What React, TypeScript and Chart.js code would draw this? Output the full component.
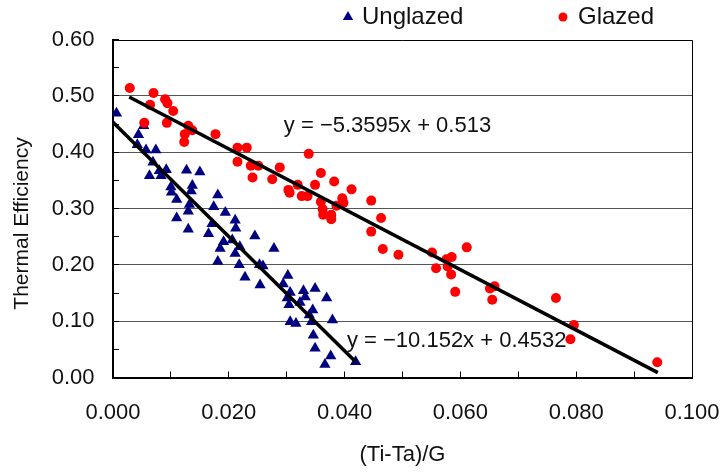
import React, { useEffect, useRef } from 'react';
import { Chart, registerables } from 'chart.js';

Chart.register(...registerables);

// ---------- data ----------
const seriesNames = ['Unglazed', 'Glazed'];

const unglazedX = [0.0006, 0.0053, 0.0044, 0.0042, 0.0057, 0.0074, 0.0069, 0.0063, 0.0080, 0.0083, 0.0092, 0.0127, 0.0150, 0.0100, 0.0101, 0.0110, 0.0137, 0.0135, 0.0181, 0.0174, 0.0132, 0.0130, 0.0194, 0.0110, 0.0130, 0.0171, 0.0211, 0.0212, 0.0165, 0.0191, 0.0185, 0.0206, 0.0219, 0.0245, 0.0211, 0.0278, 0.0181, 0.0218, 0.0253, 0.0259, 0.0228, 0.0254, 0.0302, 0.0294, 0.0306, 0.0329, 0.0349, 0.0332, 0.0369, 0.0301, 0.0304, 0.0323, 0.0345, 0.0339, 0.0306, 0.0316, 0.0343, 0.0379, 0.0346, 0.0349, 0.0376, 0.0366, 0.0419];
const unglazedY = [0.469, 0.447, 0.431, 0.413, 0.404, 0.404, 0.382, 0.358, 0.367, 0.358, 0.369, 0.368, 0.365, 0.338, 0.329, 0.316, 0.341, 0.331, 0.324, 0.303, 0.307, 0.295, 0.293, 0.283, 0.263, 0.273, 0.279, 0.265, 0.255, 0.241, 0.229, 0.244, 0.232, 0.251, 0.220, 0.229, 0.206, 0.200, 0.200, 0.198, 0.178, 0.164, 0.181, 0.166, 0.151, 0.154, 0.158, 0.143, 0.141, 0.141, 0.129, 0.133, 0.120, 0.111, 0.099, 0.096, 0.099, 0.102, 0.075, 0.052, 0.038, 0.023, 0.028];

const glazedX = [0.0029, 0.0070, 0.0064, 0.0090, 0.0094, 0.0104, 0.0054, 0.0093, 0.0130, 0.0137, 0.0124, 0.0123, 0.0177, 0.0215, 0.0231, 0.0215, 0.0238, 0.0251, 0.0241, 0.0288, 0.0275, 0.0338, 0.0303, 0.0305, 0.0319, 0.0326, 0.0336, 0.0349, 0.0359, 0.0382, 0.0359, 0.0362, 0.0363, 0.0377, 0.0377, 0.0386, 0.0412, 0.0396, 0.0398, 0.0446, 0.0463, 0.0446, 0.0466, 0.0493, 0.0551, 0.0585, 0.0576, 0.0611, 0.0558, 0.0578, 0.0584, 0.0591, 0.0651, 0.0659, 0.0655, 0.0765, 0.0796, 0.0790, 0.0940];
const glazedY = [0.514, 0.505, 0.484, 0.494, 0.487, 0.473, 0.452, 0.452, 0.447, 0.439, 0.432, 0.418, 0.432, 0.408, 0.408, 0.383, 0.376, 0.376, 0.355, 0.373, 0.352, 0.397, 0.333, 0.328, 0.342, 0.322, 0.322, 0.342, 0.363, 0.348, 0.312, 0.299, 0.289, 0.289, 0.281, 0.305, 0.334, 0.318, 0.310, 0.314, 0.283, 0.259, 0.228, 0.218, 0.222, 0.214, 0.210, 0.231, 0.194, 0.197, 0.183, 0.152, 0.158, 0.162, 0.138, 0.141, 0.093, 0.068, 0.027];

// linear fits (slope, intercept) and the x-range over which each is drawn
const unglazedFit = [-10.152, 0.4532];
const glazedFit = [-5.3595, 0.513];
const unglazedFitRange = [0.0, 0.0419];
const glazedFitRange = [0.0028, 0.0941];

const unglazedEquation = 'y = \u221210.152x + 0.4532';
const glazedEquation = 'y = \u22125.3595x + 0.513';
// equation anchor (data coordinates, left / middle of text)
const unglazedEqAt = [0.0404, 0.0648];
const glazedEqAt = [0.0295, 0.4465];

const xRange = [0, 0.1];
const yRange = [0, 0.6];
const xTitle = '(Ti-Ta)/G';
const yTitle = 'Thermal Efficiency';

const FONT = "'Liberation Sans', Arial, sans-serif";
const NAVY = '#000080';
const RED = '#FF0000';

const toPoints = (xs: number[], ys: number[]) => xs.map((x, i) => ({ x, y: ys[i] }));
const fitPoints = (fit: number[], range: number[]) => range.map((x) => ({ x, y: fit[0] * x + fit[1] }));

const overlayPlugin = {
  id: 'overlay',
  afterDraw(chart: any) {
    const { ctx, chartArea, scales } = chart;
    ctx.save();
    // top & right frame
    ctx.strokeStyle = '#000';
    ctx.lineWidth = 1;
    ctx.beginPath();
    ctx.moveTo(chartArea.left, Math.round(chartArea.top) + 0.5);
    ctx.lineTo(Math.round(chartArea.right) + 0.5, Math.round(chartArea.top) + 0.5);
    ctx.lineTo(Math.round(chartArea.right) + 0.5, chartArea.bottom);
    ctx.stroke();

    // equations
    ctx.fillStyle = '#111';
    ctx.font = `22px ${FONT}`;
    ctx.textAlign = 'left';
    ctx.textBaseline = 'middle';
    ctx.fillText(glazedEquation, scales.x.getPixelForValue(glazedEqAt[0]), scales.y.getPixelForValue(glazedEqAt[1]));
    ctx.fillText(unglazedEquation, scales.x.getPixelForValue(unglazedEqAt[0]), scales.y.getPixelForValue(unglazedEqAt[1]));

    // y-axis title
    ctx.save();
    ctx.translate(22, (chartArea.top + chartArea.bottom) / 2 + 15);
    ctx.rotate(-Math.PI / 2);
    ctx.textAlign = 'center';
    ctx.font = `21px ${FONT}`;
    ctx.fillText(yTitle, 0, 0);
    ctx.restore();

    // legend
    const ly = 17;
    ctx.font = `24px ${FONT}`;
    ctx.textAlign = 'left';
    ctx.fillStyle = NAVY;
    const tx = 348, r = 6;
    ctx.beginPath();
    ctx.moveTo(tx, ly - r);
    ctx.lineTo(tx + r * 0.866, ly + r / 2);
    ctx.lineTo(tx - r * 0.866, ly + r / 2);
    ctx.closePath();
    ctx.fill();
    ctx.fillStyle = '#111';
    ctx.fillText(seriesNames[0], 362, ly);
    ctx.fillStyle = RED;
    ctx.beginPath();
    ctx.arc(563, ly, 4.5, 0, Math.PI * 2);
    ctx.fill();
    ctx.fillStyle = '#111';
    ctx.fillText(seriesNames[1], 578, ly);
    ctx.restore();
  },
};

export default function App() {
  const ref = useRef<HTMLCanvasElement | null>(null);

  useEffect(() => {
    if (!ref.current) return;
    const isTenth = (v: number) => Math.round(v * 100) % 10 === 0;
    const chart = new Chart(ref.current, {
      type: 'scatter',
      data: {
        datasets: [
          {
            label: 'Glazed fit',
            data: fitPoints(glazedFit, glazedFitRange),
            showLine: true,
            borderColor: '#000',
            borderWidth: 3.5,
            pointRadius: 0,
            order: 0,
          },
          {
            label: 'Unglazed fit',
            data: fitPoints(unglazedFit, unglazedFitRange),
            showLine: true,
            borderColor: '#000',
            borderWidth: 3.5,
            pointRadius: 0,
            order: 0,
          },
          {
            label: seriesNames[1],
            data: toPoints(glazedX, glazedY),
            pointStyle: 'circle',
            pointRadius: 5,
            pointBackgroundColor: RED,
            pointBorderWidth: 0,
            backgroundColor: RED,
            order: 1,
          },
          {
            label: seriesNames[0],
            data: toPoints(unglazedX, unglazedY),
            pointStyle: 'triangle',
            pointRadius: 6.5,
            pointBackgroundColor: NAVY,
            pointBorderWidth: 0,
            backgroundColor: NAVY,
            order: 2,
          },
        ],
      },
      options: {
        animation: false,
        responsive: false,
        devicePixelRatio: 1,
        layout: { padding: { top: 39.5, right: 28, bottom: 0, left: 0 } },
        plugins: { legend: { display: false }, tooltip: { enabled: false } },
        scales: {
          x: {
            type: 'linear',
            min: xRange[0],
            max: xRange[1],
            afterFit: (s: any) => { s.height = 95.5; s.paddingRight = 0; s.paddingLeft = 0; },
            border: { display: true, color: '#000', width: 2 },
            grid: { drawOnChartArea: false, drawTicks: true, tickLength: -6, tickColor: '#000', tickWidth: 1 },
            ticks: {
              stepSize: 0.01,
              autoSkip: false,
              maxRotation: 0,
              padding: 28,
              color: '#111',
              font: { family: FONT, size: 22 },
              callback: (v: any) => (Math.round(Number(v) * 1000) % 20 === 0 ? Number(v).toFixed(3) : ''),
            },
            title: { display: true, text: xTitle, color: '#111', font: { family: FONT, size: 22 }, padding: { top: 0, bottom: 5 } },
          },
          y: {
            type: 'linear',
            min: yRange[0],
            max: yRange[1],
            afterFit: (s: any) => { s.width = 113; },
            border: { display: true, color: '#000', width: 2 },
            grid: {
              drawOnChartArea: true,
              drawTicks: true,
              tickLength: -6,
              tickColor: '#000',
              color: (c: any) => {
                const v = c.tick ? c.tick.value : 0;
                return isTenth(v) && v > 0.001 && v < 0.599 ? '#555' : 'rgba(0,0,0,0)';
              },
            },
            ticks: {
              stepSize: 0.05,
              autoSkip: false,
              padding: 24.5,
              color: '#111',
              font: { family: FONT, size: 22 },
              callback: (v: any) => (isTenth(Number(v)) ? Number(v).toFixed(2) : ''),
            },
            title: { display: false, text: yTitle },
          },
        },
      },
      plugins: [overlayPlugin],
    } as any);
    return () => chart.destroy();
  }, []);

  return (
    <div style={{ position: 'absolute', left: 0, top: 0, width: 720, height: 473, background: '#fff' }}>
      <canvas ref={ref} width={720} height={473} style={{ display: 'block', width: 720, height: 473 }} />
    </div>
  );
}
